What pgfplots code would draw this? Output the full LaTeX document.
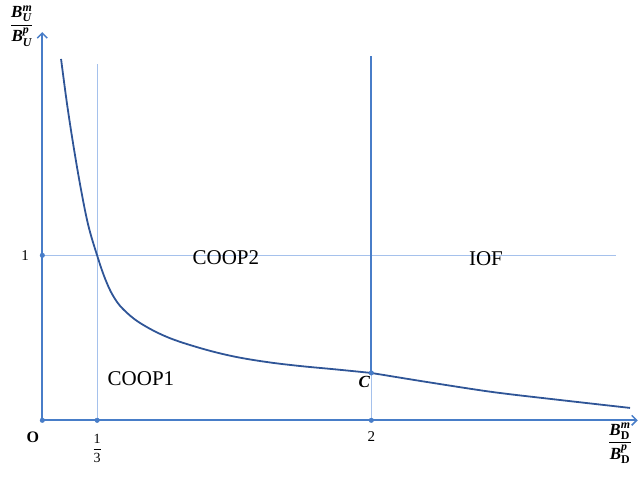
\documentclass[border=0pt]{standalone}
\usepackage{amsmath}
\usepackage{pgfplots}
\pgfplotsset{compat=1.18}
\usetikzlibrary{arrows.meta}
\usepackage{fontspec}
\setmainfont{Liberation Serif}

\definecolor{axisblue}{RGB}{72,125,200}
\definecolor{curveblue}{RGB}{47,85,151}
\definecolor{guide}{RGB}{165,193,236}
\newcommand{\bi}[1]{\text{\bfseries\itshape #1}}
\newcommand{\bu}[1]{\text{\bfseries #1}}

\begin{document}
\begin{tikzpicture}
\begin{axis}[
  at={(0,0)}, anchor=origin,
  x=164.5pt, y=165pt,
  xmin=0, xmax=3.62, ymin=0, ymax=2.353,
  axis lines=left,
  axis line style={color=axisblue, line width=2pt, -{Straight Barb[length=5pt,width=10pt,line width=1.5pt]}},
  xtick=\empty, ytick=\empty,
  clip=false,
]
% guide lines
\addplot[guide, line width=1.1pt] coordinates {(0,1) (3.49,1)};
\addplot[guide, line width=1.1pt] coordinates {(0.3333,0) (0.3333,2.16)};
\addplot[guide, line width=1.1pt] coordinates {(2,0) (2,0.287)};
% boundary above C
\addplot[axisblue, line width=2pt] coordinates {(2,0.287) (2,2.21)};
% frontier
\addplot[curveblue, line width=1.8pt, smooth, tension=0.6] coordinates {
  (0.114,2.190) (0.150,1.920) (0.190,1.660) (0.235,1.400) (0.280,1.180)
  (0.333,1.000) (0.381,0.860) (0.430,0.755) (0.490,0.675) (0.594,0.590)
  (0.758,0.505) (0.959,0.438) (1.159,0.388) (1.366,0.353) (1.567,0.329)
  (1.768,0.310) (2.000,0.287)};
\addplot[curveblue, line width=1.8pt, smooth, tension=0.5] coordinates {
  (2.000,0.287) (2.339,0.232) (2.740,0.171) (3.147,0.123) (3.573,0.075)};
% points
\addplot[only marks, mark=*, mark size=2.3pt, color=axisblue] coordinates {
  (0,0) (0,1) (0.3333,0) (2,0) (2,0.287)};

% labels
\node[font=\fontsize{15}{17}\selectfont] at (axis cs:-0.105,1) {1};
\node[font=\fontsize{16}{18}\selectfont\bfseries] at (axis cs:-0.057,-0.10) {O};
\node[font=\fontsize{14}{16}\selectfont] at (axis cs:0.3333,-0.17) {$\displaystyle\frac{\text{1}}{\text{3}}$};
\node[font=\fontsize{15}{17}\selectfont] at (axis cs:2,-0.10) {2};
\node[font=\fontsize{17}{19}\selectfont\bfseries\itshape] at (axis cs:1.957,0.23) {C};
\node[font=\fontsize{21}{24}\selectfont] at (axis cs:1.116,0.984) {COOP2};
\node[font=\fontsize{21}{24}\selectfont] at (axis cs:2.697,0.98) {IOF};
\node[font=\fontsize{21}{24}\selectfont] at (axis cs:0.60,0.25) {COOP1};
\node[font=\fontsize{17}{19}\selectfont] at (axis cs:3.512,-0.14)
  {$\displaystyle\frac{\bi{B}^{\bi{m}}_{\bu{D}}}{\bi{B}^{\bi{p}}_{\bu{D}}}$};
\node[font=\fontsize{17}{19}\selectfont] at (axis cs:-0.125,2.39)
  {$\displaystyle\frac{\bi{B}^{\bi{m}}_{\bi{U}}}{\bi{B}^{\bi{p}}_{\bi{U}}}$};
\end{axis}
\path[use as bounding box] (-42.3pt,-56.7pt) rectangle (598.7pt,420.3pt);
\end{tikzpicture}
\end{document}
